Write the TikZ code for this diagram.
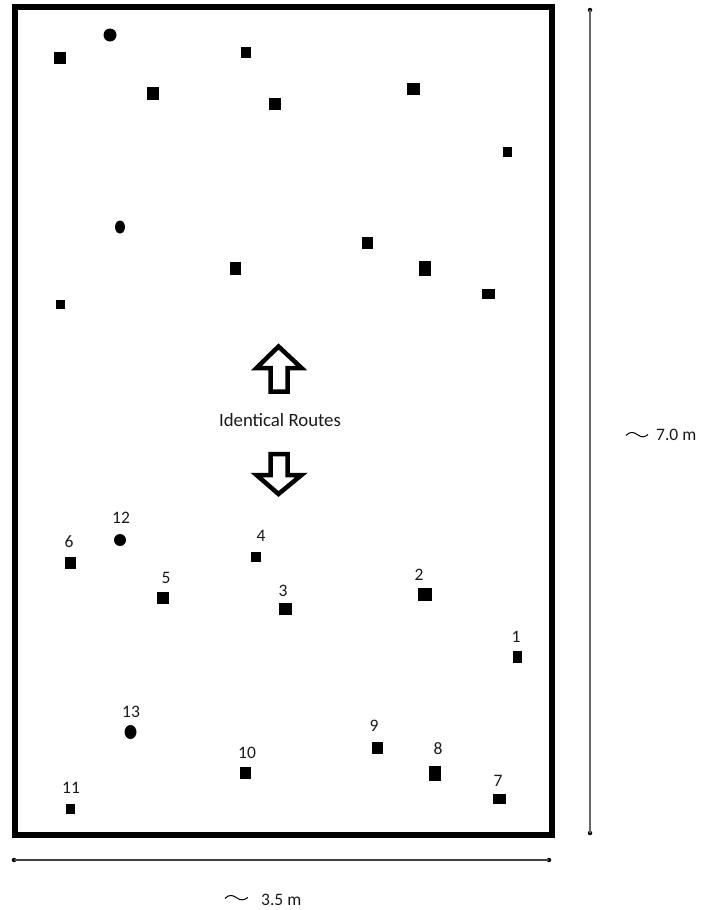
\documentclass[tikz,border=0pt]{standalone}
\usepackage{fontspec}
\setmainfont{Carlito}
\usetikzlibrary{shapes.geometric}
\begin{document}
\begin{tikzpicture}[x=1pt,y=-1pt,
  mk/.style 2 args={rectangle,fill=black,draw=none,inner sep=0pt,minimum width=#1,minimum height=#2},
  dotm/.style 2 args={ellipse,fill=black,draw=none,inner sep=0pt,minimum width=#1,minimum height=#2},
  lbl/.style={inner sep=0pt,text=black!90,font=\fontsize{17.5}{20}\selectfont},
  wall/.style={line width=6pt,draw=black},
  dimline/.style={line width=1.3pt,draw=black!75},
  bigarrow/.style={line width=4.5pt,draw=black,miter limit=10,line join=miter},
  endpt/.style={circle,fill=black,inner sep=0pt,minimum size=4.5pt}]
\useasboundingbox (0,0) rectangle (702,910);
% room
\draw[wall] (15,7) rectangle (552,834.5);
% top half markers
\node[mk={12}{12}] (a1) at (60,58) {};
\node[dotm={13}{13}] (a2) at (110,35) {};
\node[mk={10}{11}] (a3) at (246,52) {};
\node[mk={12}{13}] (a4) at (153,93) {};
\node[mk={12}{12}] (a5) at (275,104) {};
\node[mk={13}{12}] (a6) at (413,89) {};
\node[mk={9}{10}] (a7) at (507,152) {};
\node[dotm={10}{13}] (a8) at (120,227) {};
\node[mk={11}{12}] (a9) at (367,243) {};
\node[mk={11}{13}] (a10) at (235,268) {};
\node[mk={12}{15}] (a11) at (425,268) {};
\node[mk={9}{9}] (a12) at (60,304) {};
\node[mk={13}{10}] (a13) at (488,294) {};
% arrows
\draw[bigarrow] (270.5,391.5) -- (270.5,368) -- (256.5,368) -- (278.5,346.5) -- (301.5,368) -- (287.5,368) -- (287.5,391.5) -- cycle;
\node[lbl,font=\fontsize{18.8}{22}\selectfont] (routes) at (280,420) {Identical Routes};
\draw[bigarrow] (270.5,454) -- (270.5,475) -- (256.5,475) -- (278.5,494) -- (301.5,475) -- (287.5,475) -- (287.5,454) -- cycle;
% bottom half markers
\node[mk={11}{12}] (b6) at (70,563) {};
\node[dotm={12}{12}] (b12) at (120,540) {};
\node[mk={10}{10}] (b4) at (256,557) {};
\node[mk={12}{12}] (b5) at (163,598) {};
\node[mk={13}{12}] (b3) at (285,609) {};
\node[mk={14}{13}] (b2) at (424.5,594.5) {};
\node[mk={9}{12}] (b1) at (517.5,657) {};
\node[dotm={12}{14}] (b13) at (130.5,732) {};
\node[mk={11}{12}] (b9) at (377,748) {};
\node[mk={11}{12}] (b10) at (245,773) {};
\node[mk={12}{15}] (b8) at (435,773) {};
\node[mk={13}{10}] (b7) at (499,799) {};
\node[mk={9}{10}] (b11) at (70.5,809) {};
% labels
\node[lbl] (l6) at (69,542) {6};
\node[lbl] (l12) at (121,518) {12};
\node[lbl] (l4) at (261,536) {4};
\node[lbl] (l5) at (166,578) {5};
\node[lbl] (l3) at (283,591) {3};
\node[lbl] (l2) at (419,575) {2};
\node[lbl] (l1) at (516,637) {1};
\node[lbl] (l13) at (131,712) {13};
\node[lbl] (l9) at (374,726) {9};
\node[lbl] (l10) at (247,753) {10};
\node[lbl] (l8) at (438,749) {8};
\node[lbl] (l7) at (498,781) {7};
\node[lbl] (l11) at (71,788) {11};
% dimensions
\node[endpt] (vt) at (590,10) {};
\node[endpt] (vb) at (590,833) {};
\draw[dimline,draw=black!60,line width=1.8pt] (vt.center) -- (vb.center);
\node[endpt] (hl) at (14,860) {};
\node[endpt] (hr) at (549,860) {};
\draw[dimline] (hl.center) -- (hr.center);
\coordinate (t1s) at (626,435.5);
\coordinate (t1e) at (648,434.5);
\draw[line width=1pt] (t1s) .. controls (630,431) and (634,432) .. (638,435) .. controls (642,438) and (645,437) .. (t1e);
\node[lbl,anchor=west] (vlabel) at (656,435) {7.0 m};
\coordinate (t2s) at (225,898.5);
\coordinate (t2e) at (248,897.5);
\draw[line width=1pt] (t2s) .. controls (229,894) and (233,895) .. (237,898) .. controls (241,901) and (244,900) .. (t2e);
\node[lbl,anchor=west] (hlabel) at (261,900) {3.5 m};
\end{tikzpicture}
\end{document}
